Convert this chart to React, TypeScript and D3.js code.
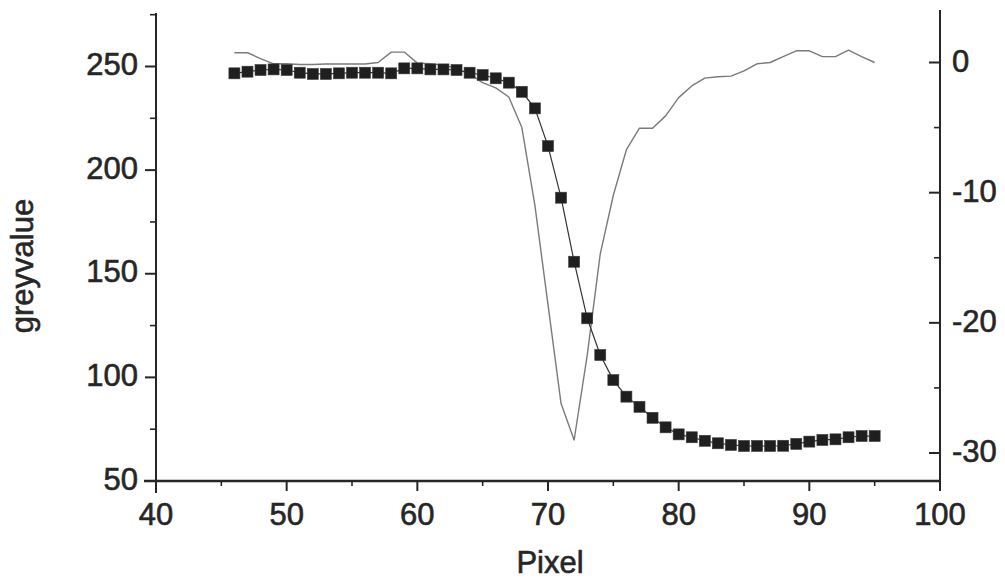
import React from "react";
import * as d3 from "d3";

// Pixel positions along the profile
const pixels: number[] = [
  46, 47, 48, 49, 50, 51, 52, 53, 54, 55, 56, 57, 58, 59, 60, 61, 62, 63, 64, 65,
  66, 67, 68, 69, 70, 71, 72, 73, 74, 75, 76, 77, 78, 79, 80, 81, 82, 83, 84, 85,
  86, 87, 88, 89, 90, 91, 92, 93, 94, 95,
];

// Grey value of each pixel (left axis, square markers)
const greyvalues: number[] = [
  246.7, 247.5, 248.3, 248.6, 248.3, 247.0, 246.4, 246.4, 246.7, 247.0,
  247.0, 247.0, 246.7, 249.1, 249.1, 248.6, 248.6, 248.3, 247.0, 245.9,
  244.3, 242.2, 237.8, 229.8, 211.6, 186.7, 155.8, 128.5, 110.8, 98.7,
  90.7, 85.8, 80.5, 75.9, 72.5, 71.1, 69.4, 68.2, 67.4, 66.9,
  66.9, 66.9, 67.0, 67.9, 69.0, 69.8, 70.1, 71.1, 71.7, 71.7,
];

// Derivative of the profile (right axis, thin line)
const derivative: number[] = [
  0.75, 0.75, 0.3, -0.1, -0.1, -0.15, -0.15, -0.12, -0.12, -0.12,
  -0.12, 0.0, 0.8, 0.8, -0.05, -0.1, -0.2, -0.45, -0.9, -1.55,
  -1.95, -2.65, -5.0, -11.0, -18.6, -26.2, -29.0, -22.5, -14.7, -10.2,
  -6.7, -5.05, -5.05, -4.1, -2.7, -1.8, -1.2, -1.1, -1.05, -0.65,
  -0.1, 0.0, 0.45, 0.9, 0.9, 0.45, 0.45, 0.95, 0.45, 0.0,
];

const xMajor: number[] = [40, 50, 60, 70, 80, 90, 100];
const xMinor: number[] = [45, 55, 65, 75, 85, 95];
const leftMajor: number[] = [50, 100, 150, 200, 250];
const leftMinor: number[] = [75, 125, 175, 225, 275];
const rightMajor: number[] = [0, -10, -20, -30];
const rightMinor: number[] = [-5, -15, -25];

const xTitle = "Pixel";
const leftTitle = "greyvalue";

const W = 1005;
const H = 582;
const FONT = "'Liberation Sans', Arial, Helvetica, sans-serif";
const INK = "#262626";

const textStyle = {
  fontFamily: FONT,
  fontSize: 31,
  fill: INK,
  stroke: INK,
  strokeWidth: 0.6,
};

export default function App() {
  const x = d3.scaleLinear().domain([40, 100]).range([156, 940]);
  const yL = d3.scaleLinear().domain([50, 250]).range([481, 66.5]);
  const yR = d3.scaleLinear().domain([-30, 0]).range([453, 62.5]);

  const idx = d3.range(pixels.length);

  const derivLine = d3
    .line<number>()
    .x((i) => x(pixels[i]))
    .y((i) => yR(derivative[i]))
    .curve(d3.curveLinear);

  const greyLine = d3
    .line<number>()
    .x((i) => x(pixels[i]))
    .y((i) => yL(greyvalues[i]));

  const sq = 11;

  return (
    <svg
      width={W}
      height={H}
      style={{ position: "absolute", left: 0, top: 0, background: "#fff" }}
    >
      <rect x={0} y={0} width={W} height={H} fill="#fff" />

      {/* derivative curve */}
      <path d={derivLine(idx) || ""} fill="none" stroke="#7a7a7a" strokeWidth={1.4} strokeLinejoin="round" />

      {/* grey value profile */}
      <path d={greyLine(idx) || ""} fill="none" stroke="#333" strokeWidth={1.2} />
      {idx.map((i) => (
        <rect
          key={i}
          x={x(pixels[i]) - sq / 2}
          y={yL(greyvalues[i]) - sq / 2}
          width={sq}
          height={sq}
          fill="#1f1f1f"
          stroke="#3a3a3a"
          strokeWidth={0.6}
        />
      ))}

      {/* left axis */}
      <line x1={x(40)} x2={x(40)} y1={13} y2={493} stroke={INK} strokeWidth={2} />
      {leftMajor.map((v) => (
        <line key={"lM" + v} x1={x(40) - 11} x2={x(40)} y1={yL(v)} y2={yL(v)} stroke={INK} strokeWidth={2} />
      ))}
      {leftMinor.map((v) => (
        <line key={"lm" + v} x1={x(40) - 6} x2={x(40)} y1={yL(v)} y2={yL(v)} stroke={INK} strokeWidth={1.6} />
      ))}
      {leftMajor.map((v) => (
        <text key={"lt" + v} x={138} y={yL(v) + 8.5} textAnchor="end" style={textStyle}>
          {v}
        </text>
      ))}

      {/* right axis */}
      <line x1={x(100)} x2={x(100)} y1={10} y2={489} stroke={INK} strokeWidth={2} />
      {rightMajor.map((v) => (
        <line key={"rM" + v} x1={x(100) - 11} x2={x(100)} y1={yR(v)} y2={yR(v)} stroke={INK} strokeWidth={2} />
      ))}
      {rightMinor.map((v) => (
        <line key={"rm" + v} x1={x(100) - 6} x2={x(100)} y1={yR(v)} y2={yR(v)} stroke={INK} strokeWidth={1.6} />
      ))}
      {rightMajor.map((v) => (
        <text key={"rt" + v} x={952} y={yR(v) + 9} textAnchor="start" style={textStyle}>
          {v}
        </text>
      ))}

      {/* bottom axis */}
      <line x1={144} x2={x(100)} y1={481} y2={481} stroke={INK} strokeWidth={2.6} />
      {xMajor.map((v) => (
        <line key={"xM" + v} x1={x(v)} x2={x(v)} y1={481} y2={491} stroke={INK} strokeWidth={2} />
      ))}
      {xMinor.map((v) => (
        <line key={"xm" + v} x1={x(v)} x2={x(v)} y1={481} y2={486} stroke={INK} strokeWidth={1.6} />
      ))}
      {xMajor.map((v) => (
        <text key={"xt" + v} x={x(v)} y={525} textAnchor="middle" style={textStyle}>
          {v}
        </text>
      ))}

      {/* axis titles */}
      <text x={550} y={573} textAnchor="middle" style={textStyle}>
        {xTitle}
      </text>
      <text transform="translate(33,266) rotate(-90)" textAnchor="middle" style={textStyle}>
        {leftTitle}
      </text>
    </svg>
  );
}
